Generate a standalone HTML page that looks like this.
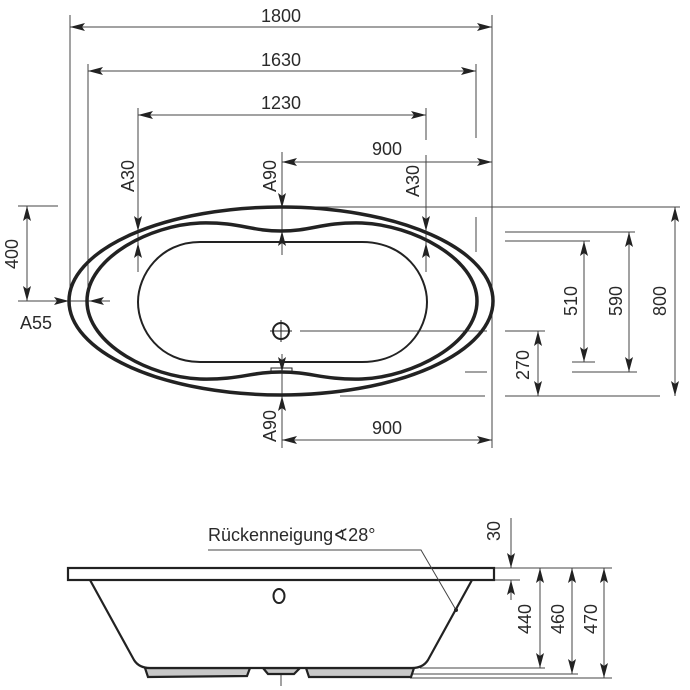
<!DOCTYPE html>
<html><head><meta charset="utf-8"><style>
html,body{margin:0;padding:0;background:#fff;}
svg{display:block;}
text{font-family:"Liberation Sans",sans-serif;font-size:18px;fill:#2a2a2a;}
</style></head><body>
<svg width="690" height="690" viewBox="0 0 690 690" xmlns="http://www.w3.org/2000/svg">
<defs>
<marker id="a" viewBox="0 0 15 8" refX="15" refY="4" markerWidth="15" markerHeight="8" markerUnits="userSpaceOnUse" orient="auto-start-reverse">
<path d="M0,0 L15,4 L0,8 L3,4 Z" fill="#222"/></marker>
</defs>
<g stroke="#444" stroke-width="1" fill="none">
<line x1="70" y1="15" x2="70" y2="290"/>
<line x1="492" y1="15" x2="492" y2="448"/>
<line x1="88" y1="64" x2="88" y2="300"/>
<line x1="476" y1="64" x2="476" y2="138"/>
<line x1="476" y1="217" x2="476" y2="252"/>
<line x1="138" y1="108" x2="138" y2="272"/>
<line x1="426" y1="108" x2="426" y2="140"/>
<line x1="426" y1="155" x2="426" y2="272"/>
<line x1="282" y1="152" x2="282" y2="255"/>
<line x1="282" y1="358" x2="282" y2="448"/>
<line x1="282" y1="207" x2="680" y2="207"/>
<line x1="505" y1="232" x2="635" y2="232"/>
<line x1="505" y1="241" x2="590" y2="241"/>
<line x1="572" y1="362" x2="595" y2="362"/>
<line x1="572" y1="372" x2="637" y2="372"/>
<line x1="505" y1="331" x2="545" y2="331"/>
<line x1="505" y1="396" x2="660" y2="396"/>
<line x1="340" y1="396" x2="485" y2="396"/>
<line x1="465" y1="372" x2="487" y2="372"/>
<line x1="300" y1="331" x2="487" y2="331"/>
<line x1="18" y1="206" x2="58" y2="206"/>
<line x1="18" y1="301" x2="110" y2="301"/>
<line x1="70" y1="27" x2="492" y2="27" marker-start="url(#a)" marker-end="url(#a)"/>
<line x1="88" y1="71" x2="476" y2="71" marker-start="url(#a)" marker-end="url(#a)"/>
<line x1="138" y1="115" x2="426" y2="115" marker-start="url(#a)" marker-end="url(#a)"/>
<line x1="282" y1="162" x2="492" y2="162" marker-start="url(#a)" marker-end="url(#a)"/>
<line x1="282" y1="440" x2="492" y2="440" marker-start="url(#a)" marker-end="url(#a)"/>
<line x1="27" y1="206" x2="27" y2="301" marker-start="url(#a)" marker-end="url(#a)"/>
<line x1="675" y1="207" x2="675" y2="396" marker-start="url(#a)" marker-end="url(#a)"/>
<line x1="629" y1="232" x2="629" y2="372" marker-start="url(#a)" marker-end="url(#a)"/>
<line x1="584" y1="241" x2="584" y2="362" marker-start="url(#a)" marker-end="url(#a)"/>
<line x1="538" y1="331" x2="538" y2="396" marker-start="url(#a)" marker-end="url(#a)"/>
<line x1="138" y1="212" x2="138" y2="231" marker-end="url(#a)"/>
<line x1="138" y1="262" x2="138" y2="243" marker-end="url(#a)"/>
<line x1="426" y1="212" x2="426" y2="231" marker-end="url(#a)"/>
<line x1="426" y1="262" x2="426" y2="243" marker-end="url(#a)"/>
<line x1="282" y1="190" x2="282" y2="208" marker-end="url(#a)"/>
<line x1="282" y1="250" x2="282" y2="231" marker-end="url(#a)"/>
<line x1="282" y1="354" x2="282" y2="372" marker-end="url(#a)"/>
<line x1="282" y1="414" x2="282" y2="396" marker-end="url(#a)"/>
<line x1="45" y1="301" x2="69" y2="301" marker-end="url(#a)"/>
<line x1="108" y1="301" x2="89" y2="301" marker-end="url(#a)"/>
</g>
<g fill="none" stroke="#222">
<ellipse cx="281" cy="301" rx="212" ry="94" stroke-width="3.5"/>
<path stroke-width="3.5" d="M87,301 C87,258 150,225 200,223 C240,222 250,231 281,231 C312,231 322,222 362,223 C412,225 477,258 477,301 C477,344 412,377 362,379 C322,380 312,372 281,372 C250,372 240,380 200,379 C150,377 87,344 87,301 Z"/>
<path stroke-width="2" d="M200,242 L362,242 C405,242 427,275 427,302 C427,330 405,362 362,362 L200,362 C160,362 138,330 138,302 C138,275 160,242 200,242 Z"/>
<circle cx="281" cy="331" r="8" stroke-width="2"/>
<line x1="270" y1="331" x2="292" y2="331" stroke-width="1"/>
<line x1="281" y1="320" x2="281" y2="342" stroke-width="1"/>
<path d="M271,373 L271,368 L292,368 L292,373" stroke-width="1"/>
</g>
<text x="281" y="22" text-anchor="middle">1800</text>
<text x="281" y="66" text-anchor="middle">1630</text>
<text x="281" y="109" text-anchor="middle">1230</text>
<text x="387" y="155" text-anchor="middle">900</text>
<text x="387" y="434" text-anchor="middle">900</text>
<text x="20" y="329">A55</text>
<text transform="translate(18,254) rotate(-90)" text-anchor="middle">400</text>
<text transform="translate(134,176) rotate(-90)" text-anchor="middle">A30</text>
<text transform="translate(276,176) rotate(-90)" text-anchor="middle">A90</text>
<text transform="translate(419,181) rotate(-90)" text-anchor="middle">A30</text>
<text transform="translate(276,426) rotate(-90)" text-anchor="middle">A90</text>
<text transform="translate(666,301) rotate(-90)" text-anchor="middle">800</text>
<text transform="translate(622,301) rotate(-90)" text-anchor="middle">590</text>
<text transform="translate(577,301) rotate(-90)" text-anchor="middle">510</text>
<text transform="translate(529,365) rotate(-90)" text-anchor="middle">270</text>
<g stroke="#444" stroke-width="1" fill="none">
<line x1="494" y1="568" x2="612" y2="568"/>
<line x1="494" y1="580" x2="520" y2="580"/>
<line x1="420" y1="668" x2="545" y2="668"/>
<line x1="410" y1="674" x2="578" y2="674"/>
<line x1="410" y1="678" x2="612" y2="678"/>
<line x1="511" y1="518" x2="511" y2="568" marker-end="url(#a)"/>
<line x1="511" y1="600" x2="511" y2="580" marker-end="url(#a)"/>
<line x1="540" y1="568" x2="540" y2="668" marker-start="url(#a)" marker-end="url(#a)"/>
<line x1="572" y1="568" x2="572" y2="674" marker-start="url(#a)" marker-end="url(#a)"/>
<line x1="604" y1="568" x2="604" y2="678" marker-start="url(#a)" marker-end="url(#a)"/>
<line x1="281" y1="652" x2="281" y2="686"/>
<line x1="250" y1="666" x2="306" y2="666" stroke-dasharray="1.5 1.5"/>
</g>
<g stroke="#222" stroke-width="2.2">
<path fill="#c8c8c8" d="M145,668 L250,668 L247,676 L148,677 Z"/>
<path fill="#c8c8c8" d="M306,668 L414,668 L411,677 L309,677 Z"/>
<path fill="#c8c8c8" d="M263,668 L268,674 L294,674 L300,668 Z"/>
<path fill="#fff" d="M90,580 L134,660 Q139,668 150,668 L412,668 Q423,668 428,660 L472,580"/>
<rect x="68" y="568" width="426" height="12" fill="#fff"/>
<ellipse cx="279" cy="596" rx="5.5" ry="7" fill="none" stroke-width="2"/>
</g>
<polyline points="208,550 421,550 456,610" stroke="#444" stroke-width="1" fill="none"/>
<circle cx="456" cy="610" r="2" fill="#222"/>
<text x="208" y="541">Rückenneigung∢28°</text>
<text transform="translate(500,531) rotate(-90)" text-anchor="middle">30</text>
<text transform="translate(531,619) rotate(-90)" text-anchor="middle">440</text>
<text transform="translate(564,619) rotate(-90)" text-anchor="middle">460</text>
<text transform="translate(597,619) rotate(-90)" text-anchor="middle">470</text>
</svg>
</body></html>
